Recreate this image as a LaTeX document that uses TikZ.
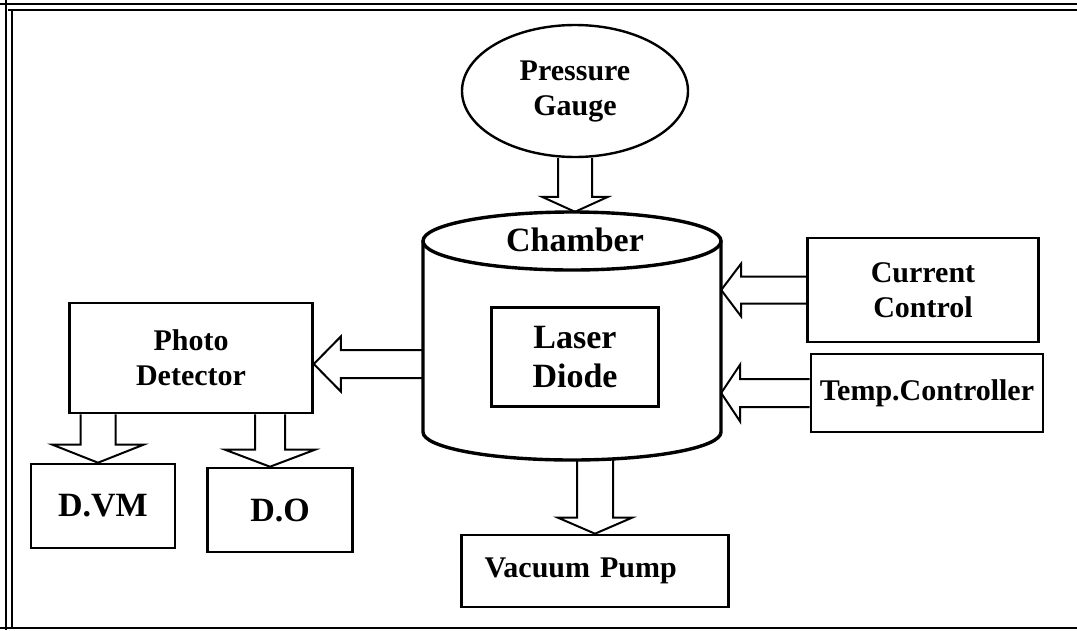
\documentclass[tikz,border=0pt]{standalone}
\usepackage{fontspec}
\setmainfont{Liberation Serif}
\usetikzlibrary{calc,shapes.geometric}
% #1 shaft half width, #2 head half width, #3 head length, #4 start, #5 tip
\newcommand\fatarrow[5]{%
  \path ($(#5)!#3!(#4)$) coordinate (fab);
  \draw[fatline] ($(#4)!#1!90:(#5)$) -- ($(fab)!#1!90:(#5)$) -- ($(fab)!#2!90:(#5)$) -- (#5)
    -- ($(fab)!#2!-90:(#5)$) -- ($(fab)!#1!-90:(#5)$) -- ($(#4)!#1!-90:(#5)$);
}
\begin{document}
\begin{tikzpicture}[x=1pt,y=-1pt,
  txt/.style={font=\fontsize{30}{35}\selectfont\bfseries, align=center},
  big/.style={font=\fontsize{34}{39}\selectfont\bfseries, align=center},
  box/.style={draw, line width=2.6pt, inner sep=0pt},
  fatline/.style={line width=2pt, line join=miter},
  cyl/.style={line width=3.4pt}]
\useasboundingbox (0,0) rectangle (1077,630);
% frame
\draw[line width=1.5pt] (0,4) -- (1077,4);
\draw[line width=2.5pt] (8,10) -- (1077,10);
\draw[line width=2.5pt] (6,0) -- (6,630);
\draw[line width=1.2pt] (12,10) -- (12,628);
\draw[line width=2.5pt] (0,628) -- (1077,628);
% nodes
\node[ellipse, draw, line width=2.4pt, minimum width=226pt, minimum height=132pt, inner sep=0pt, txt] (pg) at (575,91) {Pressure\\Gauge};
\node[minimum width=298pt, minimum height=248pt, inner sep=0pt] (ch) at (572,336) {};
\draw[cyl] (572,241) ellipse[x radius=149, y radius=29];
\draw[cyl] (423,241) -- (423,432) .. controls (423,447.5) and (489.7,460) .. (572,460)
  .. controls (654.3,460) and (721,447.5) .. (721,432) -- (721,241);
\node[big] (chl) at (575,240) {Chamber};
\node[box, big, minimum width=167pt, minimum height=99pt] (ld) at (575,357) {Laser\\Diode};
\node[box, txt, minimum width=243pt, minimum height=110pt] (pd) at (191,358) {Photo\\Detector};
\node[box, txt, minimum width=231pt, minimum height=104pt] (cc) at (923,290) {Current\\Control};
\node[box, txt, minimum width=232pt, minimum height=78pt] (tc) at (927,393) {Temp.Controller};
\node[box, txt, align=left, text width=221pt, inner xsep=23pt, minimum height=72pt] (vp) at (595,571) {Vacuum Pump};
\node[box, big, minimum width=144pt, minimum height=84pt] (dvm) at (103,506) {D.VM};
\node[box, big, minimum width=145pt, minimum height=84pt] (do) at (280,510) {D.O};
% connector end points
\coordinate (a1e) at (pg.south |- ch.north);
\coordinate (a2s) at (vp.north |- ch.south);
\coordinate (a3e) at (cc.west -| ch.east);
\coordinate (a4e) at (tc.west -| ch.east);
\coordinate (pdin) at ([yshift=-6pt]pd.east);
\coordinate (a5s) at (pdin -| ch.west);
\coordinate (dvmin) at ([xshift=-5pt]dvm.north);
\coordinate (a6s) at (dvmin |- pd.south);
\coordinate (doin) at ([xshift=-10pt]do.north);
\coordinate (a7s) at (doin |- pd.south);
% fat arrows
\fatarrow{17pt}{33pt}{15pt}{pg.south}{a1e}
\fatarrow{18pt}{37pt}{16pt}{a2s}{vp.north}
\fatarrow{13.5pt}{26.5pt}{20pt}{cc.west}{a3e}
\fatarrow{14pt}{28.5pt}{19pt}{tc.west}{a4e}
\fatarrow{14pt}{27.5pt}{27pt}{a5s}{pdin}
\fatarrow{17.5pt}{45.5pt}{18pt}{a6s}{dvmin}
\fatarrow{15pt}{45pt}{17pt}{a7s}{doin}
\end{tikzpicture}
\end{document}
